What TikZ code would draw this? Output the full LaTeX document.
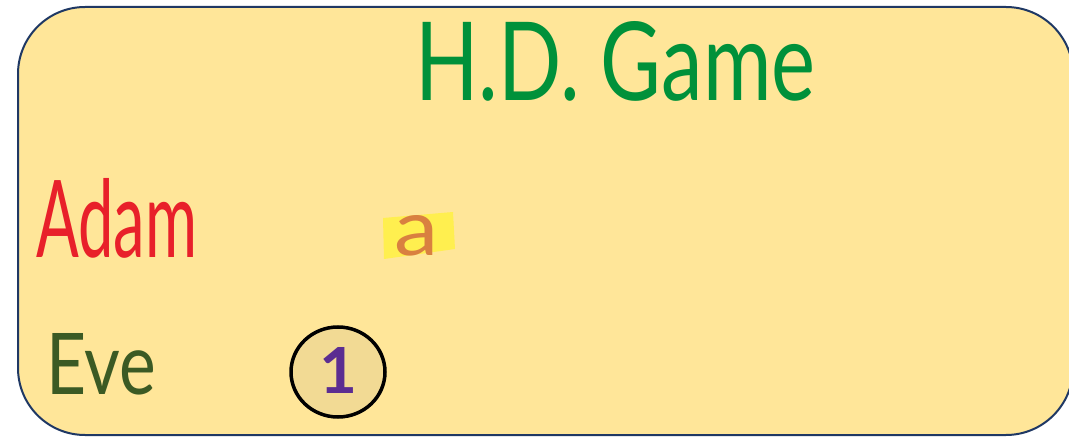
\documentclass[tikz,border=0pt]{standalone}
\usepackage{fontspec}
\setmainfont{Lato}
\definecolor{boxfill}{HTML}{FFE699}
\definecolor{boxline}{HTML}{1F3864}
\definecolor{titlegreen}{HTML}{00913A}
\definecolor{adamred}{HTML}{E8202A}
\definecolor{evegreen}{HTML}{3B5A24}
\definecolor{aorange}{HTML}{D98040}
\definecolor{hlyellow}{HTML}{FFEF4F}
\definecolor{onepurple}{HTML}{5B2D91}
\definecolor{circfill}{HTML}{F2DA94}
\tikzset{
  lbl/.style={inner sep=0pt, anchor=base west},
}
\begin{document}
\begin{tikzpicture}[x=1pt,y=-1pt]
\useasboundingbox (0,0) rectangle (1069,438);
\draw[fill=boxfill, draw=boxline, line width=2pt, rounded corners=67pt] (18,7) rectangle (1073,435);
\fill[hlyellow] (383,218) -- (453,212) -- (455,249) -- (384,259) -- cycle;
\draw[fill=circfill, draw=black, line width=3.5pt] (338,372) ellipse [x radius=47, y radius=45];
\node[lbl] (title) at (415,101) {\resizebox{400pt}{79pt}{\color{titlegreen}H.D. Game}};
\node[lbl] (adam) at (36,258) {\resizebox{161pt}{79pt}{\color{adamred}Adam}};
\node[lbl] (eve) at (46,395) {\resizebox{110pt}{61pt}{\color{evegreen}Eve}};
\node[lbl] (a) at (394,256) {\resizebox{44pt}{40pt}{\color{aorange}a}};
\node[lbl] (one) at (319,393) {\resizebox{38pt}{46pt}{\color{onepurple}\bfseries 1}};
\end{tikzpicture}
\end{document}
